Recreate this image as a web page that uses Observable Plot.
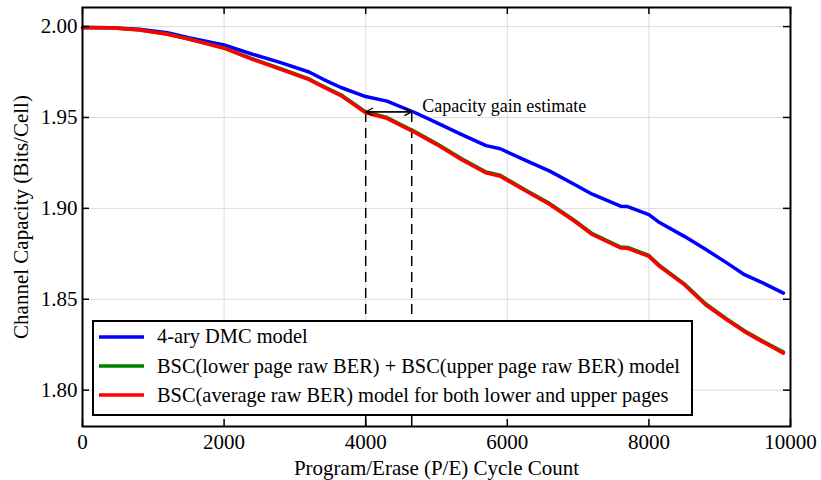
<!DOCTYPE html>
<html>
<head>
<meta charset="utf-8">
<script src="https://cdn.jsdelivr.net/npm/d3@7"></script>
<script src="https://cdn.jsdelivr.net/npm/@observablehq/plot@0.6"></script>
<style>
  html, body { margin: 0; padding: 0; background: #fff; }
  #wrap { position: relative; width: 821px; height: 480px; font-family: "Liberation Serif", "Tinos", "Times New Roman", "DejaVu Serif", serif; }
  #wrap svg, #wrap svg text { font-family: "Liberation Serif", "Tinos", "Times New Roman", "DejaVu Serif", serif !important; }
  #legend { position: absolute; left: 92px; top: 320px; width: 597px; height: 92px; border: 2px solid #000; background: #fff; }
  .item { position: absolute; left: 0; height: 28px; display: flex; align-items: center; }
  .item svg { margin-left: 5px; margin-right: 13px; }
  .item span { font-size: 20.4px; color: #000; white-space: nowrap; }
</style>
</head>
<body>
<div id="wrap"></div>
<script>
// P/E cycle counts
const cycles = [0, 400, 800, 1200, 1500, 2000, 2400, 2800, 3200, 3400, 3650, 4000, 4300, 4700, 5000, 5350, 5700, 5900, 6250, 6600, 6950, 7200, 7600, 7700, 8000, 8150, 8500, 8800, 9100, 9350, 9600, 9900];
// 4-ary DMC model
const dmc = [1.9995, 1.9994, 1.9986, 1.9966, 1.9939, 1.9899, 1.9848, 1.9802, 1.9750, 1.9710, 1.9665, 1.9615, 1.9590, 1.9526, 1.9472, 1.9407, 1.9345, 1.9328, 1.9265, 1.9205, 1.9131, 1.9078, 1.9012, 1.9010, 1.8966, 1.8922, 1.8846, 1.8775, 1.8700, 1.8635, 1.8592, 1.8534];
// BSC(lower) + BSC(upper)
const bscPages = [1.9995, 1.9993, 1.9982, 1.9959, 1.9932, 1.9883, 1.9823, 1.9769, 1.9712, 1.9672, 1.9625, 1.9531, 1.9500, 1.9421, 1.9357, 1.9274, 1.9200, 1.9182, 1.9103, 1.9026, 1.8934, 1.8861, 1.8787, 1.8785, 1.8741, 1.8686, 1.8585, 1.8475, 1.8392, 1.8327, 1.8272, 1.8209];
// BSC(average raw BER)
const bscAvg = [1.9995, 1.9993, 1.9981, 1.9958, 1.9931, 1.9881, 1.9820, 1.9765, 1.9708, 1.9668, 1.9620, 1.9526, 1.9495, 1.9416, 1.9352, 1.9269, 1.9195, 1.9177, 1.9098, 1.9021, 1.8929, 1.8856, 1.8782, 1.8780, 1.8736, 1.8681, 1.8580, 1.8470, 1.8387, 1.8322, 1.8267, 1.8203];

const seriesNames = ["4-ary DMC model", "BSC(lower page raw BER) + BSC(upper page raw BER) model", "BSC(average raw BER) model for both lower and upper pages"];
const seriesColors = ["#0000ff", "#008000", "#ff0000"];

const xTicks = [0, 2000, 4000, 6000, 8000, 10000];
const yTicks = [1.80, 1.85, 1.90, 1.95, 2.00];
const xDomain = [0, 10000];
const yDomain = [1.78, 2.0105];

// annotation: gain between the two curves at the same capacity
const gainCycles = [4000, 4650];
const gainCapacity = [1.9526, 1.9531];
const gainLabel = "Capacity gain estimate";
const gainLabelAt = [4800, 1.9562];

const rows = (ys) => cycles.map((c, i) => ({x: c, y: ys[i]}));

const W = 821, H = 480;
const mL = 82, mR = 31, mT = 7, mB = 54;
const plotW = W - mL - mR, plotH = H - mT - mB;
const tickLen = 7;

const serif = "'Liberation Serif', 'Tinos', 'Times New Roman', 'DejaVu Serif', serif";

const chart = Plot.plot({
  width: W, height: H,
  marginLeft: mL, marginRight: mR, marginTop: mT, marginBottom: mB,
  style: {fontFamily: serif, background: "#fff", color: "#000"},
  x: {domain: xDomain, ticks: xTicks, tickFormat: d3.format("d")},
  y: {domain: yDomain, ticks: yTicks, tickFormat: d3.format(".2f")},
  marks: [
    Plot.gridX(xTicks, {stroke: "#dcdcdc", strokeOpacity: 1, strokeWidth: 1}),
    Plot.gridY(yTicks, {stroke: "#dcdcdc", strokeOpacity: 1, strokeWidth: 1}),
    Plot.axisX(xTicks, {tickSize: 0, tickPadding: 8, fontSize: 21, label: null, tickFormat: d3.format("d")}),
    Plot.axisY(yTicks, {tickSize: 0, tickPadding: 5, fontSize: 21, label: null, tickFormat: d3.format(".2f")}),
    // dashed guide lines
    Plot.ruleX(gainCycles.map((c, i) => ({x: c, y2: gainCapacity[i]})), {x: "x", y1: yDomain[0], y2: "y2", stroke: "#000", strokeWidth: 1.5, strokeDasharray: "10,6"}),
    // curves
    Plot.line(rows(dmc), {x: "x", y: "y", stroke: seriesColors[0], strokeWidth: 3.5}),
    Plot.line(rows(bscPages), {x: "x", y: "y", stroke: seriesColors[1], strokeWidth: 3.5}),
    Plot.line(rows(bscAvg), {x: "x", y: "y", stroke: seriesColors[2], strokeWidth: 3.5}),
    // double-headed arrow
    Plot.arrow([{a: gainCycles[0], b: gainCycles[1], y: gainCapacity[1]}], {x1: "a", x2: "b", y1: "y", y2: "y", stroke: "#000", strokeWidth: 1.3, headLength: 9, headAngle: 55}),
    Plot.arrow([{a: gainCycles[1], b: gainCycles[0], y: gainCapacity[1]}], {x1: "a", x2: "b", y1: "y", y2: "y", stroke: "#000", strokeWidth: 1.3, headLength: 9, headAngle: 55}),
    Plot.text([{x: gainLabelAt[0], y: gainLabelAt[1], t: gainLabel}], {x: "x", y: "y", text: "t", textAnchor: "start", lineAnchor: "middle", fontSize: 18, fill: "#000"}),
    // inward ticks on all four sides
    Plot.tickX(xTicks, {x: d => d, stroke: "#000", strokeWidth: 1.5, insetTop: plotH - tickLen}),
    Plot.tickX(xTicks, {x: d => d, stroke: "#000", strokeWidth: 1.5, insetBottom: plotH - tickLen}),
    Plot.tickY(yTicks, {y: d => d, stroke: "#000", strokeWidth: 1.5, insetRight: plotW - tickLen}),
    Plot.tickY(yTicks, {y: d => d, stroke: "#000", strokeWidth: 1.5, insetLeft: plotW - tickLen}),
    // axis titles
    Plot.text(["Program/Erase (P/E) Cycle Count"], {frameAnchor: "bottom", dy: 42, textAnchor: "middle", lineAnchor: "middle", fontSize: 21, fill: "#000"}),
    Plot.text(["Channel Capacity (Bits/Cell)"], {frameAnchor: "left", dx: -61, rotate: -90, textAnchor: "middle", lineAnchor: "middle", fontSize: 21, fill: "#000"}),
    Plot.frame({stroke: "#000", strokeWidth: 2})
  ]
});

const wrap = document.getElementById("wrap");
wrap.appendChild(chart);

// legend (drawn over the plot, as in the original)
const legend = document.createElement("div");
legend.id = "legend";
seriesNames.forEach((name, i) => {
  const item = document.createElement("div");
  item.className = "item";
  item.style.top = (i * 29.3 + 0.7) + "px";
  item.innerHTML = `<svg width="45" height="10"><line x1="0" y1="5" x2="45" y2="5" stroke="${seriesColors[i]}" stroke-width="3.5"/></svg><span>${name}</span>`;
  legend.appendChild(item);
});
wrap.appendChild(legend);
</script>
</body>
</html>
